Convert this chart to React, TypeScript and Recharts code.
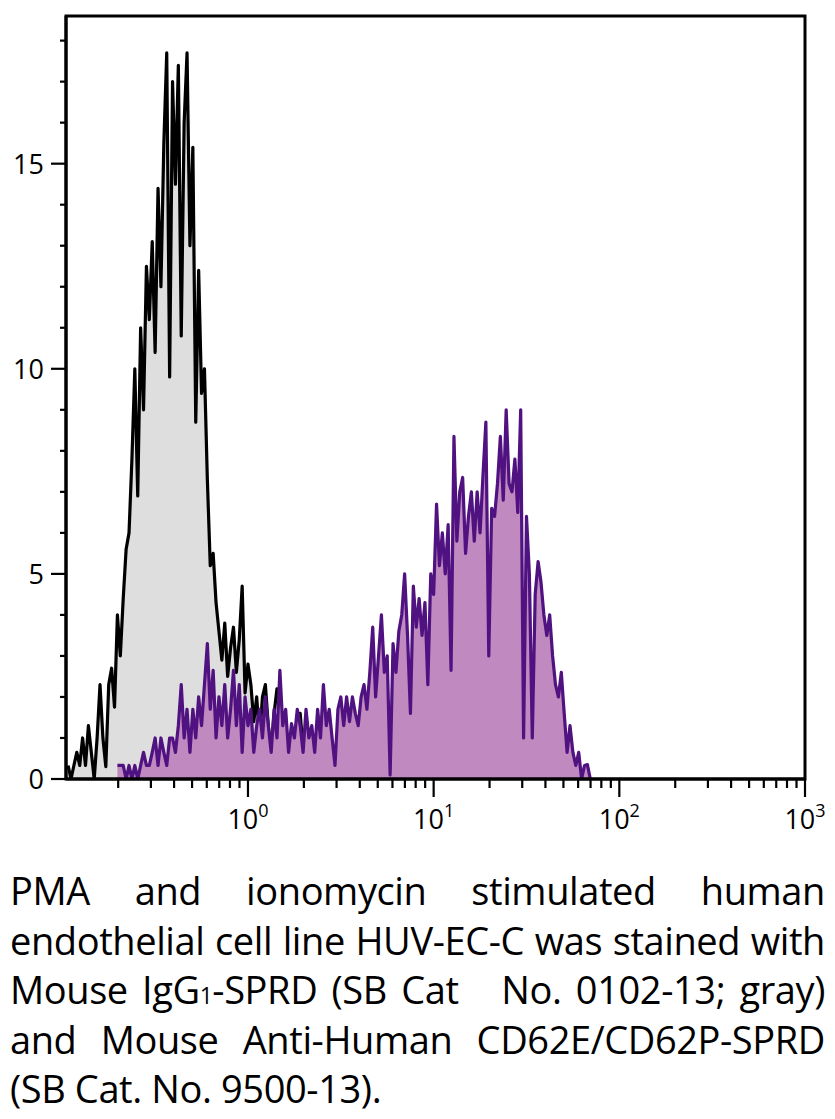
import React from "react";
import { ComposedChart, Area, XAxis, YAxis, ReferenceArea } from "recharts";

// Histogram channels: 64 channels per decade, channel 64 = 10^0
const CHANNELS_PER_DECADE = 64;
const CHANNEL_OF_ONE = 64;

// Isotype control (gray), starting at channel 2
const GRAY_START = 2;
const grayCounts = [
  0.33, 0, 0.33, 0.65, 0.33, 1.0, 0.33, 1.3, 0.65, 0, 1.0, 2.3, 1.0, 0.3, 2.3, 2.7, 1.75, 4.0, 3.0, 4.4,
  5.6, 6.0, 7.8, 10.0, 6.9, 11.0, 9.0, 12.5, 11.2, 13.1, 10.4, 14.4, 12.0, 15.5, 17.7, 9.8, 17.0, 14.5, 17.4, 10.8,
  16.0, 17.7, 13.0, 15.4, 8.7, 12.4, 9.4, 10.0, 7.3, 5.2, 5.5, 4.3, 3.6, 2.9, 3.8, 2.5, 3.2, 3.7, 2.6, 3.4,
  4.7, 2.1, 2.8, 2.3, 1.4, 2.0, 1.0, 2.0, 2.3, 1.3, 0.7, 1.6, 2.2, 1.9, 1.0, 1.3, 0.3, 1.0, 0.7, 1.3,
  1.6, 0.7, 0.3, 1.0, 0.3, 0.7, 0, 0.3, 0.7, 0, 0.3, 0,
];

// CD62E/CD62P-SPRD stained (purple), starting at channel 19
const PURPLE_START = 19;
const purpleCounts = [
  0.33, 0.33, 0.33, 0, 0.33, 0, 0.33, 0, 0.33, 0.65, 0.33, 0.33, 0.65, 1.0, 0.33, 1.0, 0.65, 0.33, 1.0, 1.0,
  0.65, 1.3, 2.3, 1.0, 1.7, 0.65, 1.7, 1.0, 2.0, 1.3, 2.3, 3.3, 1.7, 2.65, 1.0, 2.0, 1.3, 2.3, 1.0, 1.7,
  2.65, 1.3, 2.3, 0.65, 2.0, 1.3, 1.7, 0.65, 1.3, 1.7, 1.0, 2.0, 1.3, 0.65, 1.7, 1.0, 2.65, 1.3, 1.7, 0.65,
  1.35, 1.0, 1.7, 1.3, 0.65, 1.7, 1.0, 1.3, 0.65, 1.7, 1.0, 2.3, 1.3, 1.7, 1.0, 0.33, 1.7, 2.0, 1.3, 2.0,
  1.4, 2.0, 1.6, 1.3, 2.0, 2.3, 1.7, 2.6, 3.7, 2.0, 3.0, 4.0, 2.6, 3.0, 0.1, 3.3, 2.6, 3.6, 4.0, 5.0,
  3.5, 1.6, 4.7, 3.7, 4.4, 3.5, 4.3, 2.3, 5.0, 4.5, 6.7, 5.2, 6.0, 5.0, 6.2, 2.65, 8.35, 5.8, 7.0, 7.35,
  5.5, 6.4, 7.0, 5.8, 7.0, 6.0, 7.4, 8.7, 3.0, 6.6, 6.4, 7.2, 8.35, 6.8, 9.0, 7.2, 7.0, 7.8, 6.5, 9.0,
  1.0, 6.4, 5.0, 1.0, 4.5, 5.3, 4.8, 4.0, 3.5, 4.0, 3.0, 2.3, 2.0, 2.6, 1.6, 0.65, 1.3, 0.65, 0.33, 0.65,
  0, 0.33, 0.35, 0,
];

const X_DOMAIN = [0.1047, 1000];
const Y_MAX = 18.6;
const X_MAJOR_TICKS = [1, 10, 100, 1000];
const X_MINOR_TICKS = [
  0.2, 0.3, 0.4, 0.5, 0.6, 0.7, 0.8, 0.9,
  2, 3, 4, 5, 6, 7, 8, 9,
  20, 30, 40, 50, 60, 70, 80, 90,
  200, 300, 400, 500, 600, 700, 800, 900,
];
const X_TICK_EXPONENTS = ["0", "1", "2", "3"];
const Y_TICKS = [0, 1, 2, 3, 4, 5, 6, 7, 8, 9, 10, 11, 12, 13, 14, 15, 16, 17, 18];
const Y_LABELED = [0, 5, 10, 15];

const channelToIntensity = (ch: number) => Math.pow(10, (ch - CHANNEL_OF_ONE) / CHANNELS_PER_DECADE);

const lastChannel = Math.max(GRAY_START + grayCounts.length, PURPLE_START + purpleCounts.length) - 1;
const data: { x: number; gray?: number; purple?: number }[] = [];
for (let ch = GRAY_START; ch <= lastChannel; ch++) {
  const row: { x: number; gray?: number; purple?: number } = { x: channelToIntensity(ch) };
  const gi = ch - GRAY_START;
  const pi = ch - PURPLE_START;
  if (gi >= 0 && gi < grayCounts.length) row.gray = grayCounts[gi];
  if (pi >= 0 && pi < purpleCounts.length) row.purple = purpleCounts[pi];
  data.push(row);
}

const FONT = "'Open Sans', 'DejaVu Sans', sans-serif";

const XTick = (props: any) => {
  const { x, y, payload } = props;
  const v = payload.value;
  const majorIdx = X_MAJOR_TICKS.findIndex((m) => Math.abs(m - v) / m < 1e-6);
  const major = majorIdx >= 0;
  return (
    <g>
      <line x1={x} x2={x} y1={y} y2={y + (major ? 18 : 9)} stroke="#000" strokeWidth={2.2} />
      {major && (
        <text x={x} y={y + 50} textAnchor="middle" fontFamily={FONT} fontSize={27} fill="#000">
          <tspan>10</tspan>
          <tspan dy={-12} fontSize={18}>{X_TICK_EXPONENTS[majorIdx]}</tspan>
        </text>
      )}
    </g>
  );
};

const YTick = (props: any) => {
  const { x, y, payload } = props;
  const major = Y_LABELED.includes(payload.value);
  return (
    <g>
      <line x1={x - (major ? 15 : 6)} x2={x} y1={y} y2={y} stroke="#000" strokeWidth={2.2} />
      {major && (
        <text x={x - 22} y={y} dy={10} textAnchor="end" fontFamily={FONT} fontSize={27} fill="#000">
          {payload.value}
        </text>
      )}
    </g>
  );
};

const captionLine: React.CSSProperties = {
  textAlign: "justify",
  textAlignLast: "justify",
  whiteSpace: "normal",
  height: 49.5,
};

export default function App() {
  return (
    <div
      style={{
        position: "absolute",
        left: 0,
        top: 0,
        width: 835,
        height: 1119,
        background: "#fff",
        overflow: "hidden",
      }}
    >
      <ComposedChart
        width={835}
        height={860}
        data={data}
        margin={{ top: 16, right: 30, bottom: 21, left: 0 }}
      >
        <XAxis
          dataKey="x"
          type="number"
          scale="log"
          domain={X_DOMAIN}
          allowDataOverflow
          ticks={[...X_MINOR_TICKS, ...X_MAJOR_TICKS].sort((a, b) => a - b)}
          interval={0}
          tick={<XTick />}
          tickLine={false}
          tickSize={0}
          tickMargin={0}
          height={60}
          axisLine={{ stroke: "#000", strokeWidth: 3 }}
        />
        <YAxis
          type="number"
          domain={[0, Y_MAX]}
          allowDataOverflow
          ticks={Y_TICKS}
          interval={0}
          tick={<YTick />}
          tickLine={false}
          tickSize={0}
          tickMargin={0}
          width={66}
          axisLine={{ stroke: "#000", strokeWidth: 3 }}
        />
        <Area
          type="linear"
          dataKey="gray"
          stroke="#000"
          strokeWidth={3.2}
          strokeLinejoin="round"
          fill="#dedede"
          fillOpacity={1}
          isAnimationActive={false}
          dot={false}
          activeDot={false}
        />
        <Area
          type="linear"
          dataKey="purple"
          stroke="#501280"
          strokeWidth={3.2}
          strokeLinejoin="round"
          fill="#c089c0"
          fillOpacity={1}
          isAnimationActive={false}
          dot={false}
          activeDot={false}
        />
        <ReferenceArea
          x1={X_DOMAIN[0]}
          x2={X_DOMAIN[1]}
          y1={0}
          y2={Y_MAX}
          fill="none"
          stroke="#000"
          strokeWidth={3}
          ifOverflow="visible"
        />
      </ComposedChart>
      <div
        style={{
          position: "absolute",
          left: 10,
          top: 866,
          width: 815,
          fontFamily: FONT,
          fontSize: 38,
          lineHeight: "49.5px",
          letterSpacing: "-0.4px",
          color: "#000",
        }}
      >
        <div style={captionLine}>PMA and ionomycin stimulated human</div>
        <div style={captionLine}>endothelial cell line HUV-EC-C was stained with</div>
        <div style={captionLine}>
          Mouse IgG<span style={{ fontSize: "0.6em", lineHeight: 0 }}>1</span>-SPRD (SB Cat{"\u00a0\u00a0"} No. 0102-13; gray)
        </div>
        <div style={captionLine}>and Mouse Anti-Human CD62E/CD62P-SPRD</div>
        <div style={{ textAlign: "left", height: 49.5 }}>(SB Cat. No. 9500-13).</div>
      </div>
    </div>
  );
}
